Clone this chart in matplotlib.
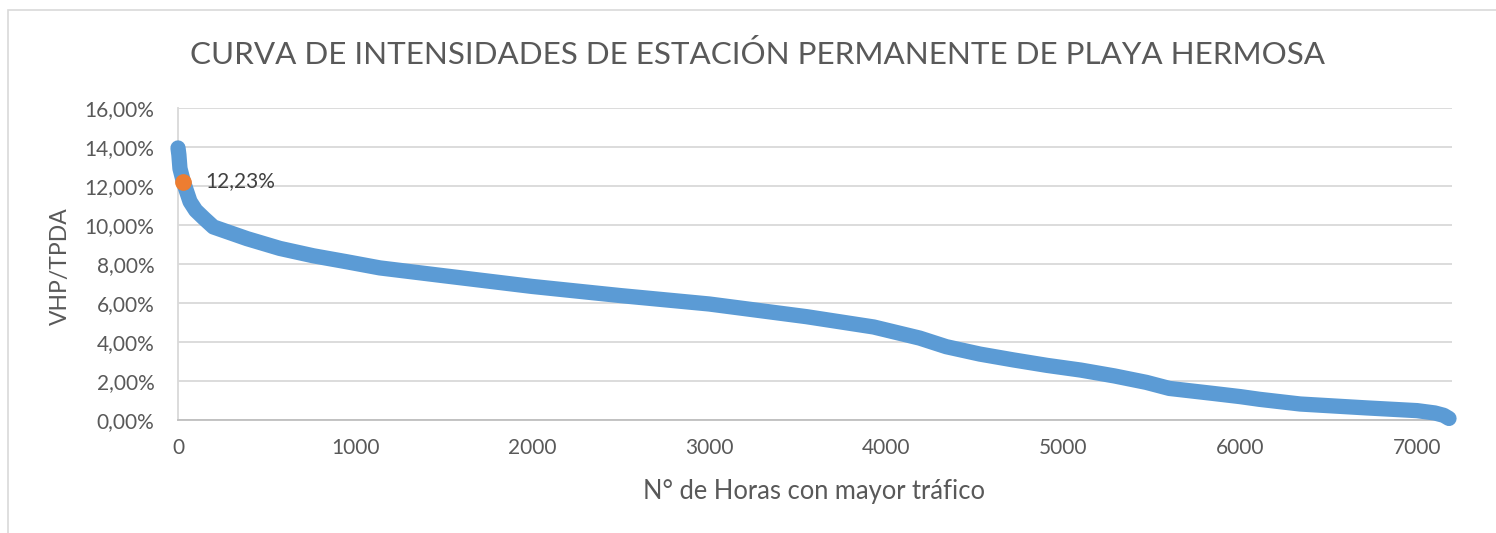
import matplotlib
matplotlib.use("Agg")
import matplotlib.pyplot as plt
from matplotlib.patches import Rectangle
from matplotlib.ticker import FuncFormatter, MultipleLocator

# horas ordenadas de mayor a menor trafico y su VHP/TPDA (%)
horas = [0, 5, 11, 30, 68, 100, 147, 200, 390, 575, 765, 950, 1140, 1500,
         2000, 2500, 3000, 3550, 3930, 4190, 4340, 4530, 4720, 4910, 5100,
         5290, 5470, 5600, 5850, 6000, 6110, 6340, 6715, 7000, 7100, 7150, 7180]
vhp_tpda = [13.95, 13.6, 12.9, 12.23, 11.2, 10.75, 10.34, 9.9, 9.3, 8.8, 8.42,
            8.12, 7.8, 7.4, 6.85, 6.38, 5.95, 5.3, 4.77, 4.2, 3.76, 3.38, 3.08,
            2.8, 2.56, 2.26, 1.93, 1.62, 1.36, 1.2, 1.06, 0.82, 0.62, 0.48,
            0.36, 0.24, 0.08]

hora_diseno = 30
valor_diseno = 12.23

plt.rcParams["font.family"] = ["Lato", "DejaVu Sans"]
gris = "#595959"

fig = plt.figure(figsize=(14.96, 5.33), dpi=100)
ax = fig.add_axes([178 / 1496, 113 / 533, 1274 / 1496, 312 / 533])

# marco del grafico (cortado a la derecha y abajo)
fig.patches.append(Rectangle((8 / 1496, -0.1), 1.2, 1.1 - 10 / 533,
                             transform=fig.transFigure, fill=False,
                             edgecolor="#D9D9D9", linewidth=1.2))

ax.plot(horas, vhp_tpda, color="#5B9BD5", linewidth=11,
        solid_capstyle="round", solid_joinstyle="round", zorder=3, clip_on=False)
ax.plot([hora_diseno], [valor_diseno], "o", color="#ED7D31",
        markersize=11, zorder=4, clip_on=False)
ax.annotate("12,23%", (hora_diseno, valor_diseno), xytext=(16, 0),
            textcoords="offset points", va="center", ha="left",
            fontsize=15, color="#404040")

ax.set_xlim(0, 7197)
ax.set_ylim(0, 16)
ax.xaxis.set_major_locator(MultipleLocator(1000))
ax.yaxis.set_major_locator(MultipleLocator(2))
ax.yaxis.set_major_formatter(FuncFormatter(lambda v, p: f"{v:.2f}".replace(".", ",") + "%"))

ax.grid(axis="y", color="#D9D9D9", linewidth=1.3)
ax.set_axisbelow(True)
for s in ["top", "right"]:
    ax.spines[s].set_visible(False)
ax.spines["left"].set_color("#D9D9D9")
ax.spines["left"].set_linewidth(1.3)
ax.spines["bottom"].set_color("#BFBFBF")
ax.spines["bottom"].set_linewidth(1.3)
ax.tick_params(length=0, labelsize=15, labelcolor=gris)
ax.tick_params(axis="y", pad=17)
ax.tick_params(axis="x", pad=13)

ax.set_xlabel("N° de Horas con mayor tráfico", fontsize=18.4, color=gris, va="center")
ax.set_ylabel("VHP/TPDA", fontsize=16.5, color=gris, va="center")
ax.xaxis.set_label_coords((814 - 178) / 1274, (420 - 491) / 312)
ax.yaxis.set_label_coords((60 - 178) / 1274, (420 - 266) / 312)
fig.text(757 / 1496, 1 - 54 / 533, "CURVA DE INTENSIDADES DE ESTACIÓN PERMANENTE DE PLAYA HERMOSA",
         ha="center", va="center", fontsize=22.6, color=gris)

fig.savefig("out.png", dpi=100)
